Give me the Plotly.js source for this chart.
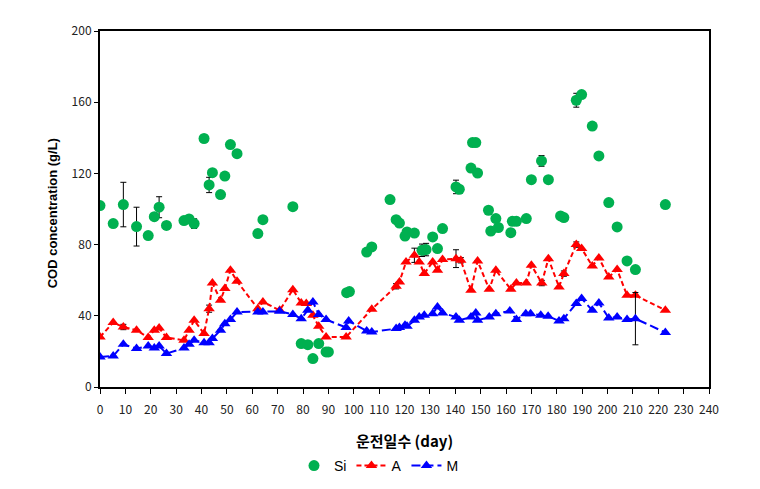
<!DOCTYPE html>
<html>
<head>
<meta charset="utf-8">
<script src="https://cdn.plot.ly/plotly-3.0.1.min.js"></script>
<style>html,body{margin:0;padding:0;background:#fff;}#chart{width:760px;height:489px;}</style>
</head>
<body>
<div id="chart"></div>
<script>
// Si series
const siDay = [0, 5.2, 9.2, 14.4, 19.0, 21.4, 23.3, 26.2, 33.1, 35.1, 37.1, 41.0, 43.0, 44.3, 47.5, 49.2, 51.4, 54.0, 62.2, 64.2, 76.0, 79.3, 81.9, 83.9, 86.2, 89.1, 90.0, 97.2, 98.3, 105.1, 107.1, 114.3, 116.7, 118.0, 120.2, 121.0, 123.9, 126.9, 128.5, 131.1, 133.0, 135.0, 140.3, 141.6, 146.2, 146.8, 148.1, 148.8, 153.1, 154.0, 156.0, 157.0, 161.9, 162.5, 164.1, 168.0, 170.0, 174.0, 176.7, 181.5, 182.8, 187.7, 189.8, 194.0, 196.6, 200.5, 203.8, 207.7, 211.0, 222.8];
const siVal = [101.9, 91.8, 102.5, 90.1, 85.1, 95.7, 101.0, 90.8, 93.5, 94.4, 91.8, 139.6, 113.5, 120.4, 108.1, 118.5, 136.2, 131.1, 86.2, 94.0, 101.3, 24.4, 23.8, 16.0, 24.4, 19.7, 19.7, 53.0, 53.6, 75.8, 78.7, 105.3, 94.0, 92.1, 84.8, 87.1, 86.5, 76.8, 77.2, 84.3, 77.8, 89.0, 112.4, 111.1, 123.0, 137.3, 137.3, 120.2, 99.3, 87.6, 94.6, 89.6, 86.7, 93.1, 93.1, 94.6, 116.5, 127.0, 116.5, 96.1, 95.2, 161.1, 164.3, 146.6, 129.8, 103.6, 89.9, 70.8, 66.0, 102.5];
const siErr = [null, null, 12.5, 10.9, null, null, 5.9, null, null, null, 2.7, null, 4.3, null, null, null, null, null, null, null, null, null, null, null, null, null, null, null, null, null, null, null, null, null, null, null, null, 3.5, 3.5, null, null, null, 3.8, null, null, null, null, null, null, null, null, null, null, null, null, null, null, 3.0, null, null, null, 3.9, null, null, null, null, null, null, null, null];

// A series
const aDay = [0, 5.2, 9.2, 14.4, 19.0, 21.4, 23.3, 26.2, 33.1, 35.1, 37.1, 41.0, 43.0, 44.3, 47.5, 49.2, 51.4, 54.0, 62.2, 64.2, 70.8, 76.0, 79.3, 81.3, 83.9, 86.2, 89.1, 97.0, 107.1, 116.7, 118.0, 120.6, 123.9, 125.8, 127.8, 131.1, 133.0, 135.0, 140.3, 142.2, 146.2, 148.8, 153.4, 156.0, 161.9, 164.1, 168.0, 170.0, 174.1, 176.7, 180.9, 182.8, 187.7, 189.8, 194.0, 196.6, 200.5, 203.8, 207.7, 211.0, 222.8];
const aVal = [28.1, 36.2, 33.7, 31.9, 27.8, 31.9, 33.1, 27.8, 26.2, 31.9, 37.5, 30.0, 44.0, 58.4, 48.7, 55.3, 65.6, 59.4, 44.0, 47.8, 43.1, 54.7, 47.2, 46.9, 40.3, 34.1, 28.1, 28.1, 43.7, 56.6, 59.0, 70.2, 74.0, 70.2, 63.7, 70.2, 65.6, 71.6, 72.1, 71.2, 54.3, 70.8, 54.9, 65.6, 54.9, 58.4, 58.4, 68.4, 58.4, 72.1, 56.2, 63.7, 80.0, 77.8, 68.0, 72.5, 61.8, 66.0, 51.5, 51.5, 43.1];
const aErr = [null, null, 1.5, null, null, null, null, null, null, null, null, null, 2.0, null, null, null, null, null, null, null, null, null, null, null, null, null, null, null, null, 1.5, null, null, 4.0, null, null, null, null, null, 5.0, 1.5, null, null, null, null, null, null, null, null, 1.5, null, null, 1.5, 1.5, null, null, null, null, null, null, null, null];

// M series
const mDay = [0, 5.2, 9.2, 14.4, 19.0, 21.4, 23.3, 26.2, 33.1, 35.1, 37.1, 41.0, 43.0, 44.3, 47.5, 49.2, 51.4, 54.0, 62.2, 64.2, 70.8, 76.0, 79.3, 81.9, 83.9, 86.2, 89.1, 97.0, 98.0, 105.1, 107.1, 116.7, 118.0, 120.2, 121.0, 123.9, 125.8, 127.8, 131.1, 133.0, 135.0, 140.3, 141.6, 146.2, 148.1, 148.8, 153.4, 156.0, 161.5, 164.1, 167.8, 169.7, 173.7, 176.6, 180.9, 182.8, 187.7, 189.8, 194.0, 196.6, 200.5, 203.8, 207.7, 211.0, 222.8];
const mVal = [16.9, 17.4, 24.0, 21.6, 23.0, 21.9, 23.0, 18.8, 21.9, 24.0, 26.2, 24.9, 24.9, 27.2, 31.9, 35.6, 37.9, 42.1, 42.1, 42.1, 42.5, 40.8, 38.4, 43.1, 47.8, 40.8, 37.9, 33.4, 37.1, 31.5, 30.9, 32.8, 33.4, 34.7, 34.1, 37.5, 39.3, 40.3, 41.2, 44.9, 41.6, 39.3, 37.5, 39.3, 41.6, 37.5, 39.3, 41.2, 42.7, 37.9, 41.2, 41.2, 40.3, 39.7, 37.1, 38.4, 46.9, 49.7, 43.1, 47.2, 38.8, 39.3, 37.9, 38.4, 30.6];
const mErr = mDay.map((d, i) => (d === 211.0 ? 14.7 : null));

const xTicks = [0, 10, 20, 30, 40, 50, 60, 70, 80, 90, 100, 110, 120, 130, 140, 150, 160, 170, 180, 190, 200, 210, 220, 230, 240];
const yTicks = [0, 40, 80, 120, 160, 200];

const errStyle = {type: 'data', visible: true, color: '#000', thickness: 1, width: 3};

const traces = [
  {x: siDay, y: siVal, name: 'Si', type: 'scatter', mode: 'markers',
   marker: {symbol: 'circle', size: 11, color: '#00B050'},
   error_y: Object.assign({array: siErr}, errStyle)},
  {x: aDay, y: aVal, name: 'A', type: 'scatter', mode: 'lines+markers',
   line: {color: '#FF0000', width: 2, dash: '5px,3px'},
   marker: {symbol: 'triangle-up', size: 10, color: '#FF0000'},
   error_y: Object.assign({array: aErr}, errStyle)},
  {x: mDay, y: mVal, name: 'M', type: 'scatter', mode: 'lines+markers',
   line: {color: '#0000FF', width: 2, dash: '9px,4px'},
   marker: {symbol: 'triangle-up', size: 10, color: '#0000FF'},
   error_y: Object.assign({array: mErr}, errStyle)}
];

const tickFont = {family: '"Noto Sans CJK KR", "Open Sans", sans-serif', size: 12, color: '#222'};

const layout = {
  width: 760, height: 489,
  margin: {l: 100, r: 51, t: 31, b: 102, autoexpand: false},
  paper_bgcolor: '#fff', plot_bgcolor: '#fff',
  showlegend: true,
  legend: {orientation: 'h', xref: 'container', yref: 'container', x: 379 / 760, xanchor: 'center',
           y: 1 - 466 / 489, yanchor: 'middle',
           font: {family: '"Liberation Sans", Arial, sans-serif', size: 14, color: '#000'},
           traceorder: 'normal'},
  xaxis: {range: [0, 240], tickvals: xTicks, ticktext: xTicks.map(String),
          showgrid: false, zeroline: false, showline: true, linecolor: '#000', linewidth: 2,
          mirror: true, ticks: 'outside', ticklen: 5, tickcolor: '#000', tickwidth: 1,
          tickfont: tickFont, ticklabelstandoff: 6, automargin: false},
  yaxis: {range: [0, 200], tickvals: yTicks, ticktext: yTicks.map(String),
          showgrid: false, zeroline: false, showline: true, linecolor: '#000', linewidth: 2,
          mirror: true, ticks: 'outside', ticklen: 4, tickcolor: '#000', tickwidth: 1,
          tickfont: tickFont, automargin: false},
  annotations: [
    {text: '<b>운전일수 (day)</b>', xref: 'paper', yref: 'paper', x: (404 - 100) / 609, y: (386.7 - 440) / 356,
     xanchor: 'center', yanchor: 'middle', showarrow: false,
     font: {family: '"Noto Sans CJK KR", sans-serif', size: 15, color: '#000'}},
    {text: '<b>COD concentration (g/L)</b>', xref: 'paper', yref: 'paper', x: (52 - 100) / 609, y: (386.7 - 213) / 356,
     xanchor: 'center', yanchor: 'middle', textangle: -90, showarrow: false,
     font: {family: '"Liberation Sans", Arial, sans-serif', size: 13, color: '#000'}}
  ]
};

Plotly.newPlot('chart', traces, layout, {displayModeBar: false, staticPlot: true});
</script>
</body>
</html>
